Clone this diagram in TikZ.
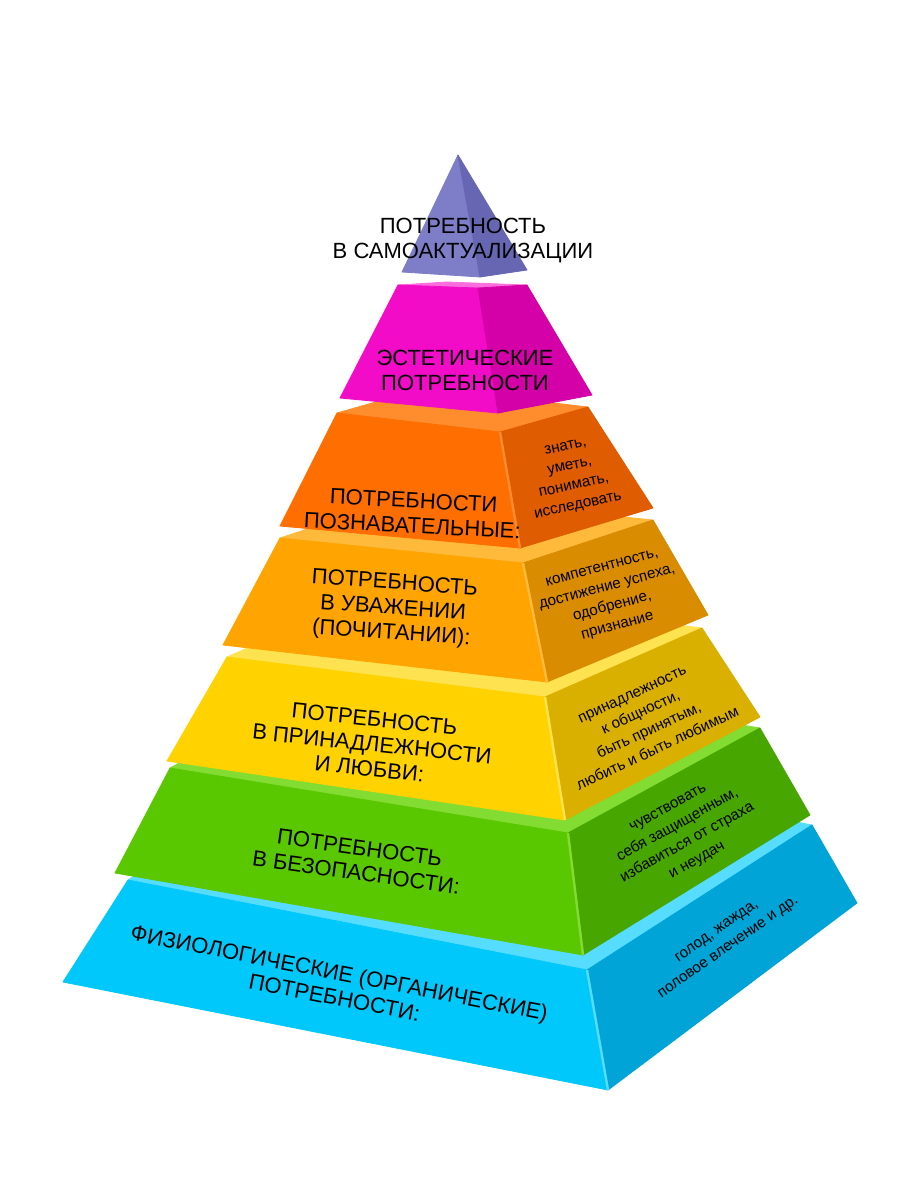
\documentclass[tikz,border=0pt]{standalone}
\usepackage{fontspec}
\setsansfont{Liberation Sans}
\usetikzlibrary{positioning}

\definecolor{apexFront}{RGB}{126,126,200}
\definecolor{apexSide}{RGB}{102,102,178}
\definecolor{magFront}{RGB}{243,12,200}
\definecolor{magSide}{RGB}{212,0,168}
\definecolor{magTop}{RGB}{250,110,222}
\definecolor{oraFront}{RGB}{255,110,0}
\definecolor{oraSide}{RGB}{224,92,0}
\definecolor{oraTop}{RGB}{255,140,45}
\definecolor{ambFront}{RGB}{255,164,0}
\definecolor{ambSide}{RGB}{218,140,0}
\definecolor{ambTop}{RGB}{255,186,60}
\definecolor{yelFront}{RGB}{255,210,0}
\definecolor{yelSide}{RGB}{218,176,0}
\definecolor{yelTop}{RGB}{255,226,80}
\definecolor{grnFront}{RGB}{90,200,0}
\definecolor{grnSide}{RGB}{72,166,0}
\definecolor{grnTop}{RGB}{130,220,50}
\definecolor{bluFront}{RGB}{0,200,250}
\definecolor{bluSide}{RGB}{0,164,214}
\definecolor{bluTop}{RGB}{85,220,255}

\tikzset{
  face/.style={fill=#1, draw=#1, line width=0.4pt, line join=round},
  ridge/.style={draw=#1, line width=1.2pt},
  lvltxt/.style={align=center, inner sep=1pt, font=\sffamily\fontsize{11}{12.5}\selectfont},
  notetxt/.style={align=center, inner sep=1pt, font=\sffamily\fontsize{7.6}{10}\selectfont}
}

\begin{document}
\begin{tikzpicture}[font=\sffamily, x=0.5pt, y=-0.5pt]

	\useasboundingbox[fill=white] (0,0) rectangle (916,1200);

	% 1. Base level: physiological needs
	\filldraw[face=bluTop] (128,880) -- (587,970) -- (812,825) -- (353,735) -- cycle;
	\filldraw[face=bluFront] (128,880) -- (587,970) -- (608,1090) -- (63,982) -- cycle;
	\filldraw[face=bluSide] (587,970) -- (812,825) -- (857,903) -- (608,1090) -- cycle;
	\draw[ridge=bluTop] (587,970) -- (608,1090);
	\node[lvltxt, rotate=-11] (physio) at (337,985) {ФИЗИОЛОГИЧЕСКИЕ (ОРГАНИЧЕСКИЕ)\\ПОТРЕБНОСТИ:};
	\node[notetxt, rotate=35] (physioNote) at (723,940) {голод, жажда,\\половое влечение и др.};

	% 2. Safety
	\filldraw[face=grnTop] (170,768) -- (568,833) -- (760,728) -- (362,663) -- cycle;
	\filldraw[face=grnFront] (170,768) -- (568,833) -- (583,955) -- (115,873) -- cycle;
	\filldraw[face=grnSide] (568,833) -- (760,728) -- (810,815) -- (583,955) -- cycle;
	\draw[ridge=grnTop] (568,833) -- (583,955);
	\node[lvltxt, rotate=-8] (safety) at (358,860) {ПОТРЕБНОСТЬ\\В БЕЗОПАСНОСТИ:};
	\node[notetxt, rotate=29] (safetyNote) at (683,835) {чувствовать\\себя защищенным,\\избавиться от страха\\и неудач};

	% 3. Belonging and love
	\filldraw[face=yelTop] (227,657) -- (545,697) -- (702,628) -- (384,588) -- cycle;
	\filldraw[face=yelFront] (227,657) -- (545,697) -- (565,820) -- (167,761) -- cycle;
	\filldraw[face=yelSide] (545,697) -- (702,628) -- (760,717) -- (565,820) -- cycle;
	\draw[ridge=yelTop] (545,697) -- (565,820);
	\node[lvltxt, rotate=-6] (love) at (372,744) {ПОТРЕБНОСТЬ\\В ПРИНАДЛЕЖНОСТИ\\И ЛЮБВИ:};
	\node[notetxt, rotate=25] (loveNote) at (645,722) {принадлежность\\к общности,\\быть принятым,\\любить и быть любимым};

	% 4. Esteem
	\filldraw[face=ambTop] (280,538) -- (523,563) -- (653,520) -- (410,495) -- cycle;
	\filldraw[face=ambFront] (280,538) -- (523,563) -- (547,682) -- (223,645) -- cycle;
	\filldraw[face=ambSide] (523,563) -- (653,520) -- (708,615) -- (547,682) -- cycle;
	\draw[ridge=ambTop] (523,563) -- (547,682);
	\node[lvltxt, rotate=-4] (esteem) at (393,609) {ПОТРЕБНОСТЬ\\В УВАЖЕНИИ\\(ПОЧИТАНИИ):};
	\node[notetxt, rotate=15] (esteemNote) at (610,598) {компетентность,\\достижение успеха,\\одобрение,\\признание};

	% 5. Cognitive
	\filldraw[face=oraTop] (337,413) -- (500,432) -- (588,407) -- (425,388) -- cycle;
	\filldraw[face=oraFront] (337,413) -- (500,432) -- (520,548) -- (280,526) -- cycle;
	\filldraw[face=oraSide] (500,432) -- (588,407) -- (653,508) -- (520,548) -- cycle;
	\draw[ridge=oraTop] (500,432) -- (520,548);
	\node[lvltxt, rotate=-3] (cogn) at (413,513) {ПОТРЕБНОСТИ\\ПОЗНАВАТЕЛЬНЫЕ:};
	\node[notetxt, rotate=12] (cognNote) at (572,477) {знать,\\уметь,\\понимать,\\исследовать};

	% 6. Aesthetic
	\filldraw[face=magTop] (398,285) -- (478,288) -- (527,285) -- (447,282) -- cycle;
	\filldraw[face=magFront] (398,285) -- (478,288) -- (498,413) -- (340,398) -- cycle;
	\filldraw[face=magSide] (478,288) -- (527,285) -- (592,395) -- (498,413) -- cycle;
	\node[lvltxt] (aesth) at (465,370) {ЭСТЕТИЧЕСКИЕ\\ПОТРЕБНОСТИ};

	% 7. Apex: self-actualization
	\filldraw[face=apexFront] (458,155) -- (480,277) -- (402,272) -- cycle;
	\filldraw[face=apexSide] (458,155) -- (527,270) -- (480,277) -- cycle;
	\node[lvltxt] (selfact) at (463,241) {ПОТРЕБНОСТЬ\\В САМОАКТУАЛИЗАЦИИ};

\end{tikzpicture}
\end{document}
